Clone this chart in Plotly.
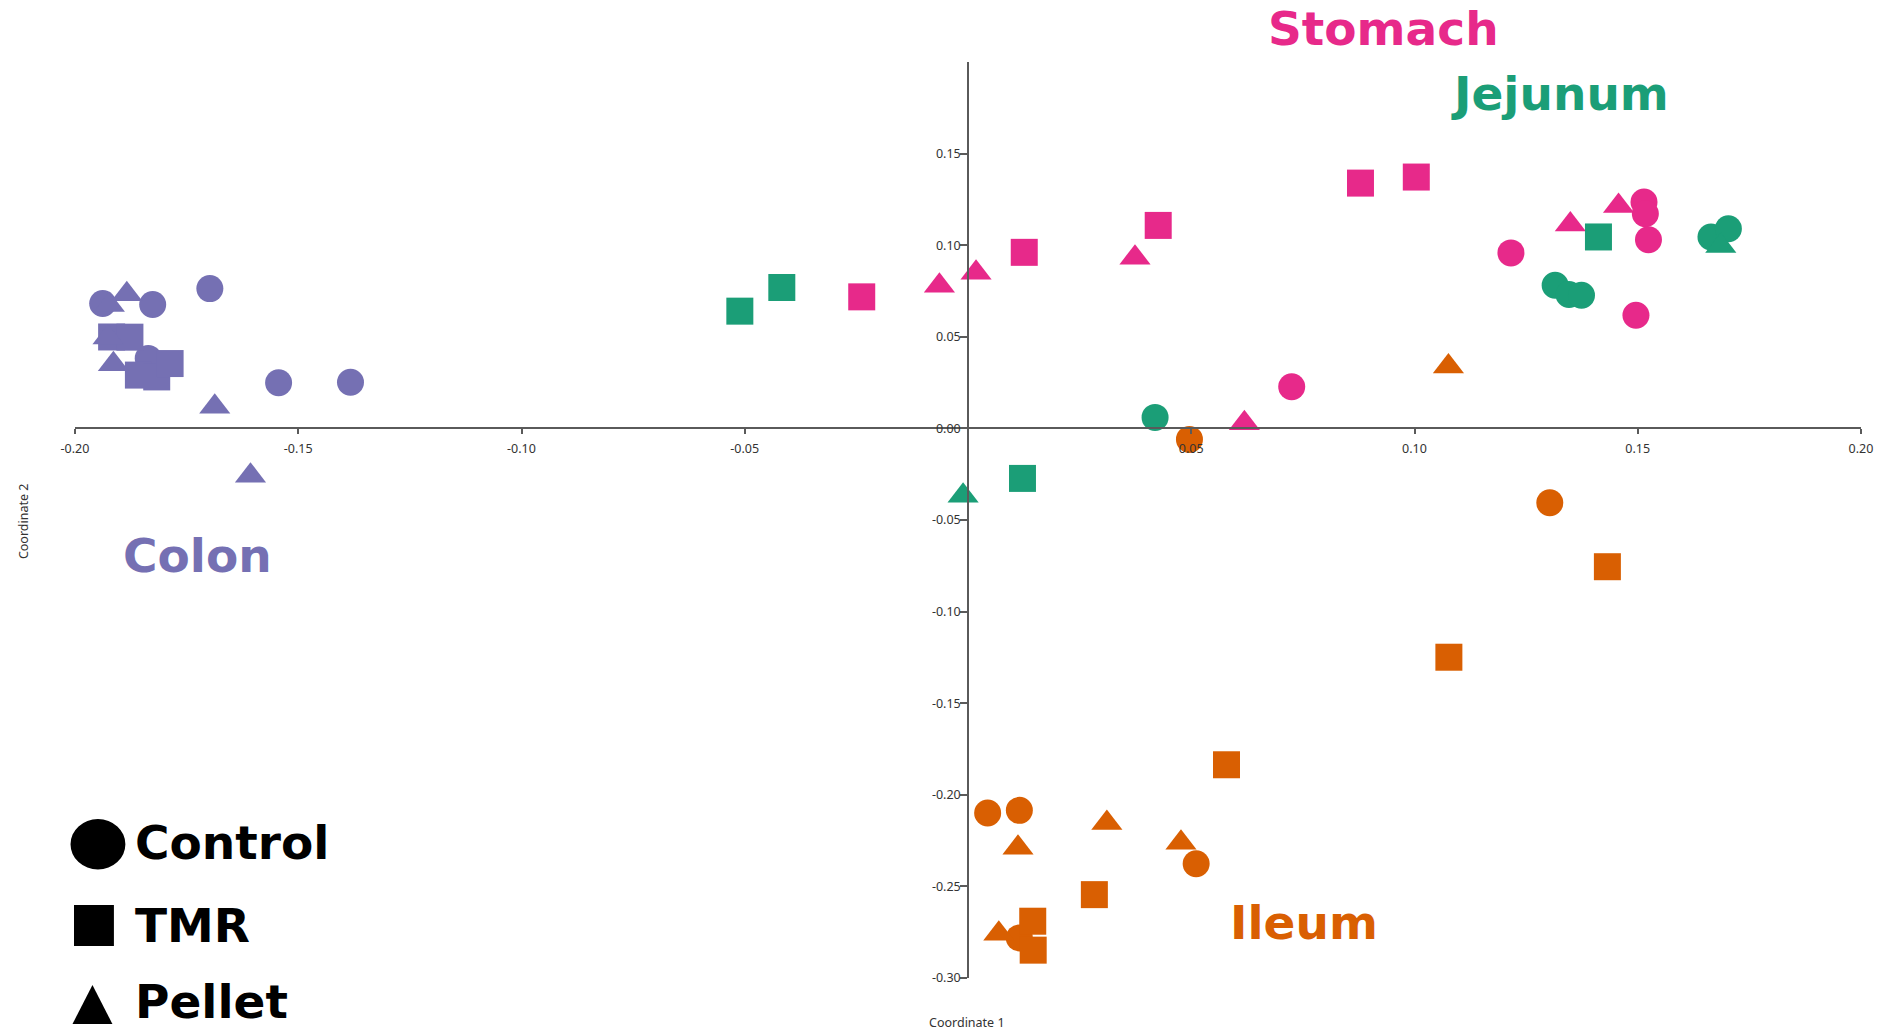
import plotly.graph_objects as go

# ---------------- data ----------------
# Colon
colon_control_x = [-0.1938, -0.1826, -0.1698, -0.1836, -0.1544, -0.1383]
colon_control_y = [0.0682, 0.0676, 0.0763, 0.0382, 0.0249, 0.0252]
colon_tmr_x = [-0.1918, -0.1877, -0.1858, -0.1817, -0.1787]
colon_tmr_y = [0.0499, 0.0498, 0.0291, 0.0281, 0.0354]
colon_pellet_x = [-0.1923, -0.1884, -0.1926, -0.1914, -0.1687, -0.1607]
colon_pellet_y = [0.0674, 0.0732, 0.0496, 0.0350, 0.0118, -0.0258]

# Stomach
stomach_control_x = [0.0725, 0.1216, 0.1514, 0.1517, 0.1524, 0.1496]
stomach_control_y = [0.0227, 0.0958, 0.1236, 0.1172, 0.1030, 0.0618]
stomach_tmr_x = [-0.0238, 0.0126, 0.0426, 0.0879, 0.1004]
stomach_tmr_y = [0.0718, 0.0961, 0.1108, 0.1339, 0.1372]
stomach_pellet_x = [-0.0064, 0.0018, 0.0374, 0.0619, 0.1349, 0.1457]
stomach_pellet_y = [0.0778, 0.0850, 0.0932, 0.0028, 0.1113, 0.1214]

# Jejunum
jejunum_control_x = [0.0419, 0.1315, 0.1346, 0.1374, 0.1664, 0.1703]
jejunum_control_y = [0.0060, 0.0781, 0.0731, 0.0727, 0.1045, 0.1090]
jejunum_tmr_x = [-0.0511, -0.0417, 0.0122, 0.1412]
jejunum_tmr_y = [0.0640, 0.0769, -0.0273, 0.1045]
jejunum_pellet_x = [-0.0011, 0.1686]
jejunum_pellet_y = [-0.0368, 0.0996]

# Ileum
ileum_control_x = [0.0496, 0.1303, 0.0044, 0.0115, 0.0511, 0.0115]
ileum_control_y = [-0.0060, -0.0406, -0.2099, -0.2085, -0.2376, -0.2781]
ileum_tmr_x = [0.1432, 0.1077, 0.0579, 0.0283, 0.0145, 0.0146]
ileum_tmr_y = [-0.0755, -0.1249, -0.1836, -0.2545, -0.2690, -0.2848]
ileum_pellet_x = [0.1076, 0.0112, 0.0311, 0.0477, 0.0069]
ileum_pellet_y = [0.0338, -0.2289, -0.2154, -0.2262, -0.2758]

organs = ["Colon", "Stomach", "Jejunum", "Ileum"]
diets = ["Control", "TMR", "Pellet"]

x_tick_vals = [-0.20, -0.15, -0.10, -0.05, 0.05, 0.10, 0.15, 0.20]
x_tick_text = ["-0.20", "-0.15", "-0.10", "-0.05", "0.05", "0.10", "0.15", "0.20"]
y_tick_vals = [0.15, 0.10, 0.05, 0.00, -0.05, -0.10, -0.15, -0.20, -0.25, -0.30]
y_tick_text = ["0.15", "0.10", "0.05", "0.00", "-0.05", "-0.10", "-0.15", "-0.20", "-0.25", "-0.30"]

# ---------------- styling ----------------
colors = {"Colon": "#7570b3", "Stomach": "#e7298a", "Jejunum": "#1b9e77", "Ileum": "#d95f02"}
symbols = {"Control": "circle", "TMR": "square", "Pellet": "triangle-up"}
sizes = {"Control": 27, "TMR": 27, "Pellet": 27}

series = {
    ("Colon", "Control"): (colon_control_x, colon_control_y),
    ("Colon", "TMR"): (colon_tmr_x, colon_tmr_y),
    ("Colon", "Pellet"): (colon_pellet_x, colon_pellet_y),
    ("Stomach", "Control"): (stomach_control_x, stomach_control_y),
    ("Stomach", "TMR"): (stomach_tmr_x, stomach_tmr_y),
    ("Stomach", "Pellet"): (stomach_pellet_x, stomach_pellet_y),
    ("Jejunum", "Control"): (jejunum_control_x, jejunum_control_y),
    ("Jejunum", "TMR"): (jejunum_tmr_x, jejunum_tmr_y),
    ("Jejunum", "Pellet"): (jejunum_pellet_x, jejunum_pellet_y),
    ("Ileum", "Control"): (ileum_control_x, ileum_control_y),
    ("Ileum", "TMR"): (ileum_tmr_x, ileum_tmr_y),
    ("Ileum", "Pellet"): (ileum_pellet_x, ileum_pellet_y),
}

W, H = 1885, 1030
L, R, T, B = 75, 20, 62, 52
X_RANGE = [-0.20, 0.20]
Y_RANGE = [-0.30, 0.20]
PW = W - L - R
PH = H - T - B


def pxx(xp):
    return (xp - L) / PW


def pxy(yp):
    return 1 - (yp - T) / PH


fig = go.Figure()
for organ in organs:
    for diet in diets:
        xs, ys = series[(organ, diet)]
        fig.add_trace(go.Scatter(
            x=xs, y=ys, mode="markers", name=f"{organ} {diet}",
            marker=dict(symbol=symbols[diet], size=sizes[diet], color=colors[organ],
                        line=dict(width=0)),
            cliponaxis=False, showlegend=False, hoverinfo="skip",
        ))

axis_color = "#5a5a5a"
tick_font = dict(family="Noto Sans, Open Sans, sans-serif", size=12.5, color="#333333")

fig.update_layout(
    width=W, height=H,
    margin=dict(l=L, r=R, t=T, b=B, pad=0),
    paper_bgcolor="white", plot_bgcolor="white",
    showlegend=False,
    xaxis=dict(
        range=X_RANGE, showgrid=False, zeroline=False,
        showline=True, linecolor=axis_color, linewidth=1.5,
        anchor="free", position=(0 - Y_RANGE[0]) / (Y_RANGE[1] - Y_RANGE[0]),
        tickmode="array", tickvals=x_tick_vals, ticktext=x_tick_text,
        ticks="outside", ticklen=5, tickwidth=1.5, tickcolor=axis_color,
        tickfont=tick_font, ticklabelstandoff=4,
    ),
    yaxis=dict(
        range=Y_RANGE, showgrid=False, zeroline=False,
        showline=True, linecolor=axis_color, linewidth=1.5,
        anchor="free", position=(0 - X_RANGE[0]) / (X_RANGE[1] - X_RANGE[0]),
        tickmode="array", tickvals=y_tick_vals, ticktext=y_tick_text,
        ticks="outside", ticklen=7, tickwidth=1.5, tickcolor=axis_color,
        tickfont=tick_font, ticklabelstandoff=-3,
    ),
)

label_font = "DejaVu Sans, Verdana, sans-serif"
annotations = []
# organ labels
for text, cx, cy in [("Stomach", 1386, 28.5), ("Jejunum", 1563, 94), ("Colon", 197.5, 555), ("Ileum", 1307, 922)]:
    annotations.append(dict(
        text=text, xref="paper", yref="paper", x=pxx(cx), y=pxy(cy),
        xanchor="center", yanchor="middle", showarrow=False,
        font=dict(family=label_font, size=47, color=colors[text], weight="bold"),
    ))
# legend texts
for text, cy in [("Control", 842), ("TMR", 925), ("Pellet", 1001)]:
    annotations.append(dict(
        text=text, xref="paper", yref="paper", x=pxx(133), y=pxy(cy),
        xanchor="left", yanchor="middle", showarrow=False,
        font=dict(family=label_font, size=47, color="black", weight="bold"),
    ))
# axis titles
annotations.append(dict(
    text="Coordinate 1", xref="paper", yref="paper", x=pxx(969), y=pxy(1022),
    xanchor="center", yanchor="middle", showarrow=False,
    font=dict(family="Noto Sans, Open Sans, sans-serif", size=12.5, color="#333333"),
))
annotations.append(dict(
    text="Coordinate 2", xref="paper", yref="paper", x=pxx(23), y=pxy(521),
    xanchor="center", yanchor="middle", showarrow=False, textangle=-90,
    font=dict(family="Noto Sans, Open Sans, sans-serif", size=12.5, color="#333333"),
))
fig.update_layout(annotations=annotations)

# legend glyphs
shapes = [
    dict(type="circle", xref="paper", yref="paper",
         x0=pxx(70.5), x1=pxx(125.5), y0=pxy(869.5), y1=pxy(819),
         fillcolor="black", line=dict(width=0)),
    dict(type="rect", xref="paper", yref="paper",
         x0=pxx(74), x1=pxx(114), y0=pxy(946), y1=pxy(905),
         fillcolor="black", line=dict(width=0)),
    dict(type="path", xref="paper", yref="paper",
         path=f"M {pxx(72.5)},{pxy(1024)} L {pxx(112.5)},{pxy(1024)} L {pxx(92.5)},{pxy(985)} Z",
         fillcolor="black", line=dict(width=0)),
]
fig.update_layout(shapes=shapes)

fig.write_html(
    "out.html",
    config={"displayModeBar": False},
    post_script="document.body.style.margin='0';document.body.style.overflow='hidden';",
)
